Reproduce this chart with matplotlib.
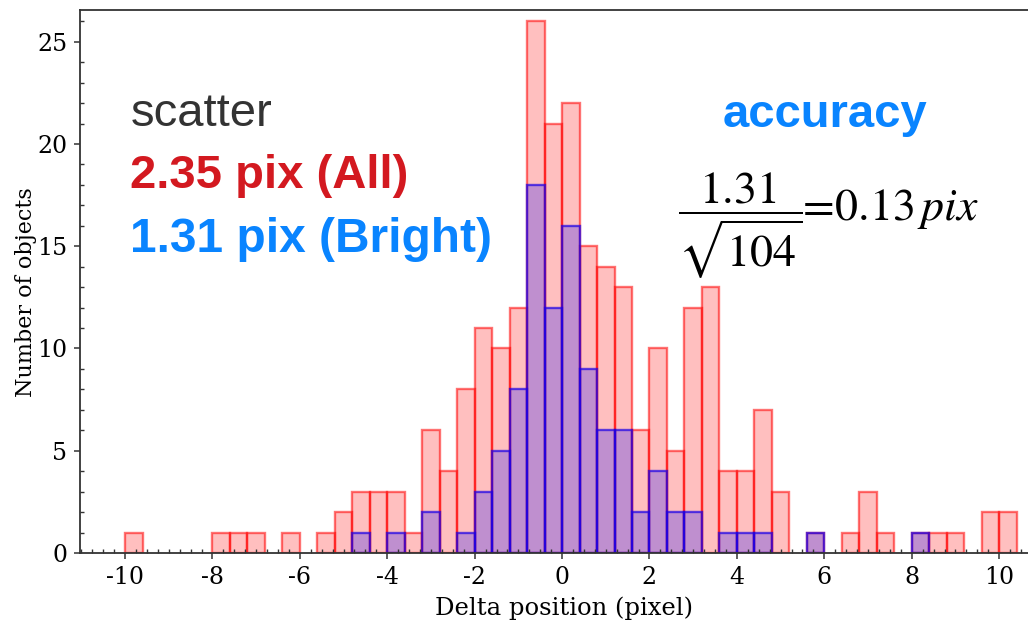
#!/usr/bin/env python
import numpy as np
import matplotlib
matplotlib.use('Agg')
import matplotlib.pyplot as plt
from matplotlib.ticker import MultipleLocator

# histogram bins: 0.4 pixel wide, left edges from -10.0 up to 10.0
bin_width = 0.4
bin_left = np.round(np.arange(-10.0, 10.01, bin_width), 2)

# counts per bin, all objects
counts_all = [1, 0, 0, 0, 0, 1, 1, 1, 0, 1,
              0, 1, 2, 3, 3, 3, 1, 6, 4, 8,
              11, 10, 12, 26, 21, 22, 15, 14, 13, 6,
              10, 5, 12, 13, 4, 4, 7, 3, 0, 1,
              0, 1, 3, 1, 0, 1, 1, 1, 0, 2,
              2]

# counts per bin, bright objects
counts_bright = [0, 0, 0, 0, 0, 0, 0, 0, 0, 0,
                 0, 0, 0, 1, 0, 1, 0, 2, 0, 1,
                 3, 5, 8, 18, 12, 16, 9, 6, 6, 2,
                 4, 2, 2, 0, 1, 1, 1, 0, 0, 1,
                 0, 0, 0, 0, 0, 1, 0, 0, 0, 0,
                 0]


def main():
    plt.rcParams['axes.unicode_minus'] = False
    plt.rcParams['mathtext.fontset'] = 'stix'

    fig = plt.figure(figsize=(10.28, 6.23), dpi=100)
    W, H = 1028., 623.
    ax = fig.add_axes([80 / W, 1 - 553 / H, 1 - 80 / W, (553 - 10) / H])

    call = np.array(counts_all)
    cbr = np.array(counts_bright)
    m1 = call > 0
    m2 = cbr > 0
    ax.bar(bin_left[m1], call[m1], width=bin_width, align='edge',
           facecolor=(1, 0, 0, 0.25), edgecolor=(1, 0, 0, 0.55), linewidth=1.7)
    ax.bar(bin_left[m2], cbr[m2], width=bin_width, align='edge',
           facecolor=(0, 0, 1, 0.25), edgecolor=(0.1, 0, 0.9, 0.7), linewidth=1.7)

    ax.set_xlim(-11.03, 10.66)
    ax.set_ylim(0, 26.55)

    ax.xaxis.set_major_locator(MultipleLocator(2))
    ax.xaxis.set_minor_locator(MultipleLocator(0.25))
    ax.yaxis.set_major_locator(MultipleLocator(5))
    ax.yaxis.set_minor_locator(MultipleLocator(1))
    ax.tick_params(which='major', direction='out', length=4, width=1.1,
                   color='#333333', labelsize=17, pad=5)
    ax.tick_params(which='minor', direction='in', length=3, width=1.0,
                   color='#333333')
    for lab in ax.get_xticklabels() + ax.get_yticklabels():
        lab.set_family('DejaVu Serif')

    ax.spines['right'].set_visible(False)
    for s in ('left', 'bottom', 'top'):
        ax.spines[s].set_color('#333333')
        ax.spines[s].set_linewidth(1.3)

    ax.set_xlabel('Delta position (pixel)', family='DejaVu Serif', fontsize=17.5)
    ax.set_ylabel('Number of objects', family='DejaVu Serif', fontsize=16)
    ax.xaxis.set_label_coords((564 - 80) / (W - 80), -(608 - 553) / 543.,
                              transform=ax.transAxes)
    ax.yaxis.set_label_coords(-(80 - 26) / (W - 80), (553 - 292) / 543.,
                              transform=ax.transAxes)
    ax.xaxis.label.set_va('center')
    ax.yaxis.label.set_va('center')

    sans = 'Liberation Sans'
    fig.text(130.5 / W, 1 - 126 / H, 'scatter', color='#333333',
             family=sans, fontsize=34, va='baseline')
    fig.text(130.5 / W, 1 - 188.5 / H, '2.35 pix (All)', color='#d31920',
             family=sans, fontsize=34, weight='bold', va='baseline')
    fig.text(130.5 / W, 1 - 251.5 / H, '1.31 pix (Bright)', color='#0984ff',
             family=sans, fontsize=34.5, weight='bold', va='baseline')
    fig.text(723 / W, 1 - 127 / H, 'accuracy', color='#0984ff',
             family=sans, fontsize=34, weight='bold', va='baseline')
    fig.text(678 / W, 1 - 225 / H,
             r'$\dfrac{1.31}{\sqrt{104}}\!\!=\!0.13\,pix$',
             color='black', fontsize=33, va='center')

    fig.savefig('out.png', dpi=100)


if __name__ == '__main__':
    main()
